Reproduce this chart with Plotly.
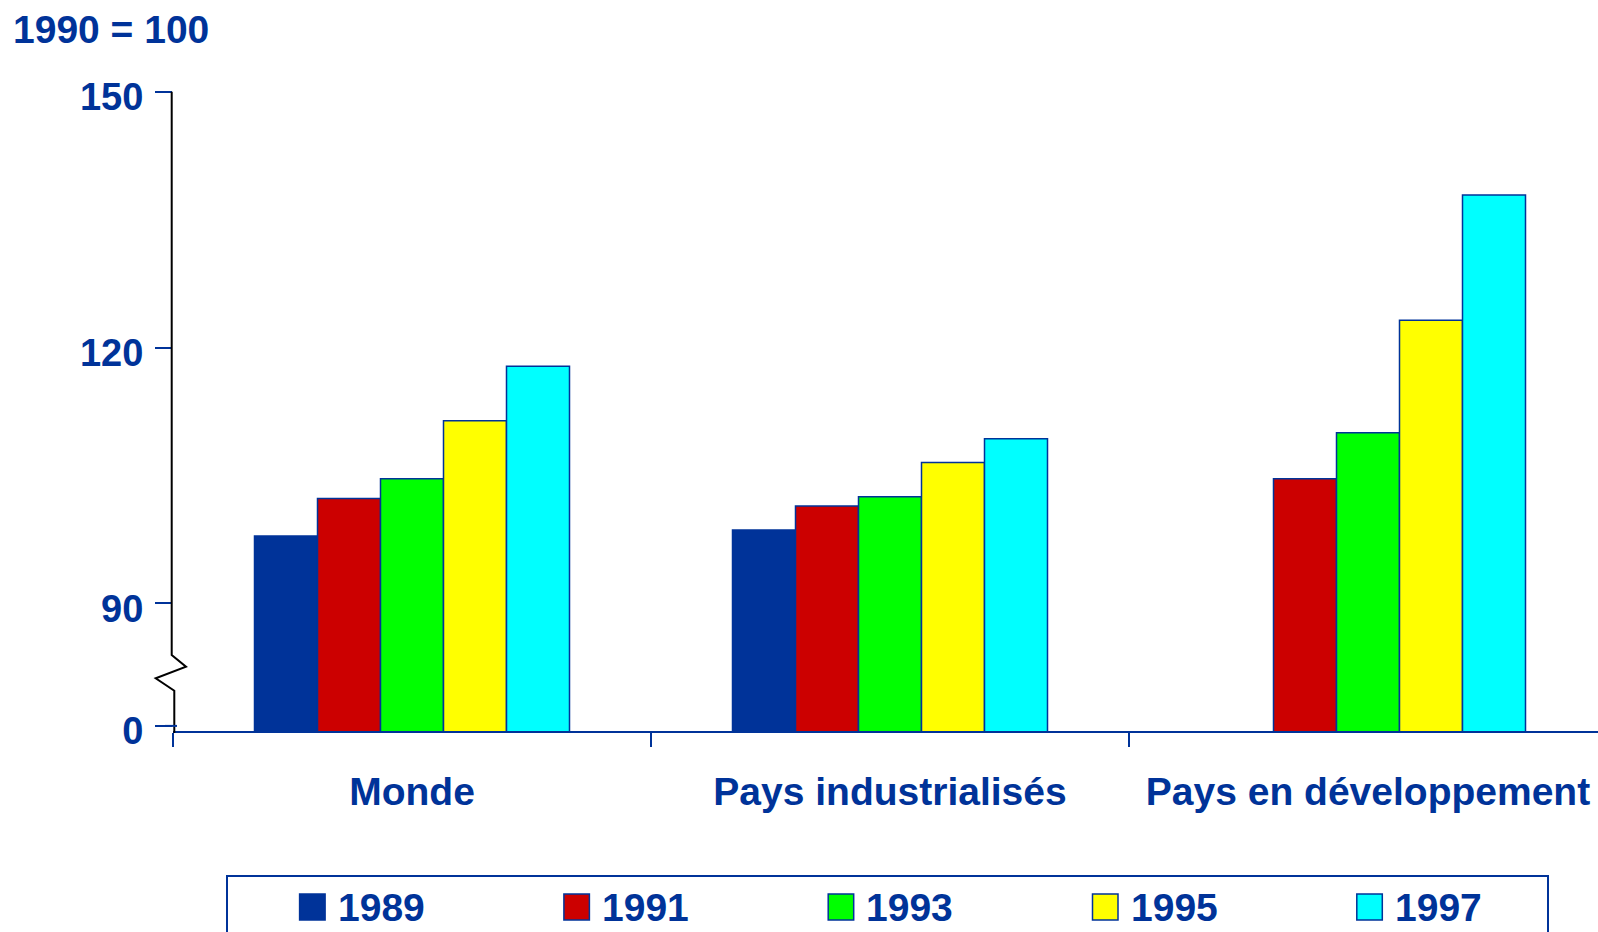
import plotly.graph_objects as go

# ---------------- data ----------------
categories = ["Monde", "Pays industrialisés", "Pays en développement"]
years = ["1989", "1991", "1993", "1995", "1997"]
v1989 = [97.9, 98.6, None]
v1991 = [102.3, 101.4, 104.6]
v1993 = [104.6, 102.5, 110.0]
v1995 = [111.4, 106.5, 123.2]
v1997 = [117.8, 109.3, 137.9]
series = [v1989, v1991, v1993, v1995, v1997]
colors = ["#003399", "#CC0000", "#00FF00", "#FFFF00", "#00FFFF"]
ytick_vals = [75.6, 90, 120, 150]
ytick_text = ["0", "90", "120", "150"]
y_range = [75, 150]
unit_title = "1990 = 100"

# ---------------- layout geometry (pixels) ----------------
W, H = 1598, 932
L, R, T, B = 173, 0, 92, 201
PW = W - L - R
PH = H - T - B
BOTTOM = H - B
CAT_W = 478.0
BLUE = "#003399"
FONT = "Liberation Sans, Arial, sans-serif"


def px(x):
    return (x - L) / PW


def py(y):
    return (BOTTOM - y) / PH


fig = go.Figure()
for name, vals, col in zip(years, series, colors):
    fig.add_trace(go.Bar(
        x=categories, y=vals, name=name,
        marker=dict(color=col, line=dict(color=BLUE, width=1.5)),
        showlegend=False,
    ))

shapes = []
annotations = []

# broken y axis line (black with zigzag)
pts = [(171.7, 91.7), (171.7, 655), (186, 666.7), (155.7, 678.3),
       (174.3, 690.7), (174.3, 733)]
path = "M " + " L ".join(f"{px(a):.5f},{py(b):.5f}" for a, b in pts)
shapes.append(dict(type="path", xref="paper", yref="paper", path=path,
                   line=dict(color="black", width=2), layer="above"))
# the "0" tick crosses the axis line slightly
shapes.append(dict(type="line", xref="paper", yref="paper",
                   x0=px(165), x1=px(177), y0=py(725.9), y1=py(725.9),
                   line=dict(color=BLUE, width=2), layer="above"))

# legend box
shapes.append(dict(type="rect", xref="paper", yref="paper",
                   x0=px(227), x1=px(1548), y0=py(876), y1=py(960),
                   line=dict(color=BLUE, width=2), fillcolor="rgba(0,0,0,0)"))
step = 264.3
for i, (name, col) in enumerate(zip(years, colors)):
    x0 = 299.6 + i * step
    shapes.append(dict(type="rect", xref="paper", yref="paper",
                       x0=px(x0), x1=px(x0 + 25.5), y0=py(920), y1=py(894),
                       line=dict(color=BLUE, width=1.5), fillcolor=col))
    annotations.append(dict(xref="paper", yref="paper", x=px(x0 + 36), y=py(907.5),
                            xanchor="left", yanchor="middle", showarrow=False,
                            text=name,
                            font=dict(family=FONT, size=39, color=BLUE, weight="bold")))

annotations.append(dict(xref="paper", yref="paper", x=px(11), y=py(30),
                        xanchor="left", yanchor="middle", showarrow=False,
                        text=unit_title,
                        font=dict(family=FONT, size=39, color=BLUE, weight="bold")))

fig.update_layout(
    width=W, height=H,
    margin=dict(l=L, r=R, t=T, b=B, pad=0),
    paper_bgcolor="white", plot_bgcolor="white",
    barmode="group", bargap=0.341, bargroupgap=0,
    shapes=shapes, annotations=annotations,
    showlegend=False,
    xaxis=dict(
        type="category", range=[-0.5, -0.5 + PW / CAT_W],
        tickson="boundaries", ticks="outside", ticklen=14, tickwidth=2,
        tickcolor=BLUE, showline=True, linecolor=BLUE, linewidth=2,
        showgrid=False, zeroline=False, ticklabelstandoff=25,
        tickfont=dict(family=FONT, size=39, color=BLUE, weight="bold"),
    ),
    yaxis=dict(
        range=y_range, tickvals=ytick_vals, ticktext=ytick_text,
        ticks="outside", ticklen=17, tickwidth=2, tickcolor=BLUE,
        showline=False, showgrid=False, zeroline=False,
        ticklabelstandoff=4, ticklabelshift=5,
        tickfont=dict(family=FONT, size=38, color=BLUE, weight="bold"),
    ),
)

fig.write_html("out.html", config={"displayModeBar": False},
               post_script="document.body.style.margin='0';document.body.style.overflow='hidden';")
